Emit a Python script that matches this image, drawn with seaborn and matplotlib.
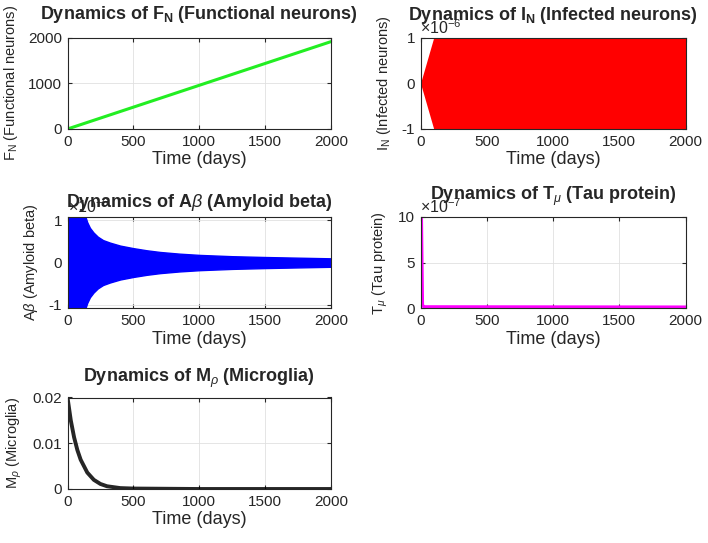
import matplotlib.pyplot as plt
import numpy as np
import pandas as pd
import seaborn as sns
from matplotlib.ticker import FuncFormatter

sns.set_style("ticks")
plt.rcParams["font.family"] = ["Liberation Sans", "DejaVu Sans"]
plt.rcParams["mathtext.fontset"] = "custom"
plt.rcParams["mathtext.rm"] = "Liberation Sans"
plt.rcParams["mathtext.it"] = "Liberation Sans:italic"
plt.rcParams["mathtext.bf"] = "Liberation Sans:bold"
plt.rcParams["axes.unicode_minus"] = False

days_ticks = [0, 500, 1000, 1500, 2000]

# F_N (functional neurons), straight rise
fn_t = [0, 2000]
fn_v = [0, 1910]

# I_N (infected neurons), oscillation envelope, x1e-6
in_t = [0, 100, 2000]
in_hi = [0, 1, 1]
in_lo = [0, -1, -1]

# A beta, oscillation envelope, x1e-6
ab_t = [0, 134, 150, 170, 197, 230, 270, 323, 400, 500, 600, 702, 850,
        1005, 1250, 1510, 1750, 2000]
ab_hi = [1.1, 1.1, 0.95, 0.82, 0.71, 0.61, 0.53, 0.47, 0.40, 0.34, 0.29,
         0.25, 0.21, 0.18, 0.15, 0.13, 0.115, 0.10]
ab_lo = [-1.1, -1.1, -0.95, -0.82, -0.71, -0.61, -0.53, -0.47, -0.40, -0.34,
         -0.29, -0.25, -0.21, -0.18, -0.15, -0.13, -0.115, -0.10]

# T_mu (tau protein), x1e-7
tau_t = [0, 6, 14, 30, 2000]
tau_v = [10, 9.8, 0.3, 0.15, 0.12]

# M_rho (microglia)
mr_t = [0, 25, 50, 75, 100, 150, 200, 250, 300, 400, 500, 1000, 2000]
mr_v = [0.02, 0.0150, 0.0113, 0.0085, 0.0064, 0.0036, 0.0020, 0.0011,
        0.0006, 0.0002, 0.0001, 0.0, 0.0]

fig = plt.figure(figsize=(7.08, 5.43), dpi=100)

W, H = 708, 543
colL, colR = 67.5 / W, 420.5 / W
wL, wR = 263.5 / W, 265 / W
h = 91.5 / H
rows = [(H - 129) / H, (H - 308.3) / H, (H - 489) / H]

ax1 = fig.add_axes([colL, rows[0], wL, h])
ax2 = fig.add_axes([colR, rows[0], wR, h])
ax3 = fig.add_axes([colL, rows[1], wL, h])
ax4 = fig.add_axes([colR, rows[1], wR, h])
ax5 = fig.add_axes([colL, rows[2], wL, h])


def style(ax, ylim, yticks, ylabel, title, tpad, expo=None):
    ax.set_xlim(0, 2000)
    ax.set_ylim(*ylim)
    ax.set_xticks(days_ticks)
    ax.set_yticks(yticks)
    ax.yaxis.set_major_formatter(FuncFormatter(lambda v, p: f"{v:g}"))
    ax.grid(True, color="#e0e0e0", lw=0.6)
    ax.set_axisbelow(True)
    ax.tick_params(direction="in", length=3, top=True, right=True,
                   labelsize=11, colors="#262626", pad=4)
    for s in ax.spines.values():
        s.set_color("#262626")
        s.set_linewidth(0.8)
    ax.set_xlabel("Time (days)", fontsize=13, color="#262626", labelpad=2)
    ax.set_ylabel(ylabel, fontsize=10.5, color="#262626", labelpad=6)
    ax.set_title(title, fontsize=13, fontweight="bold", pad=tpad)
    if expo:
        ax.text(0.0, 1.01, expo, transform=ax.transAxes, fontsize=11.5,
                color="#262626", ha="left", va="bottom")


sns.lineplot(x=fn_t, y=fn_v, ax=ax1, color="#22ee22", lw=2.2)
style(ax1, (0, 2000), [0, 1000, 2000], "F$_\\mathregular{N}$ (Functional neurons)",
      "Dynamics of F$_\\mathbf{N}$ (Functional neurons)", 13)

ax2.fill_between(in_t, in_lo, in_hi, color="#ff0000", lw=0)
style(ax2, (-1, 1), [-1, 0, 1], "I$_\\mathregular{N}$ (Infected neurons)",
      "Dynamics of I$_\\mathbf{N}$ (Infected neurons)", 12.5, "$\\times$10$^{-6}$")

ax3.fill_between(ab_t, ab_lo, ab_hi, color="#0000ff", lw=1)
style(ax3, (-1.08, 1.08), [-1, 0, 1], "A$\\beta$ (Amyloid beta)",
      "Dynamics of A$\\beta$ (Amyloid beta)", 7, "$\\times$10$^{-6}$")

sns.lineplot(x=tau_t, y=tau_v, ax=ax4, color="#ff00ff", lw=2.5)
style(ax4, (0, 10), [0, 5, 10], "T$_\\mu$ (Tau protein)",
      "Dynamics of T$_\\mu$ (Tau protein)", 12, "$\\times$10$^{-7}$")

sns.lineplot(x=mr_t, y=mr_v, ax=ax5, color="black", lw=2.8, alpha=0.85)
style(ax5, (0, 0.02), [0, 0.01, 0.02], "M$_\\rho$ (Microglia)",
      "Dynamics of M$_\\rho$ (Microglia)", 11.5)

fig.savefig("out.png", dpi=100)
